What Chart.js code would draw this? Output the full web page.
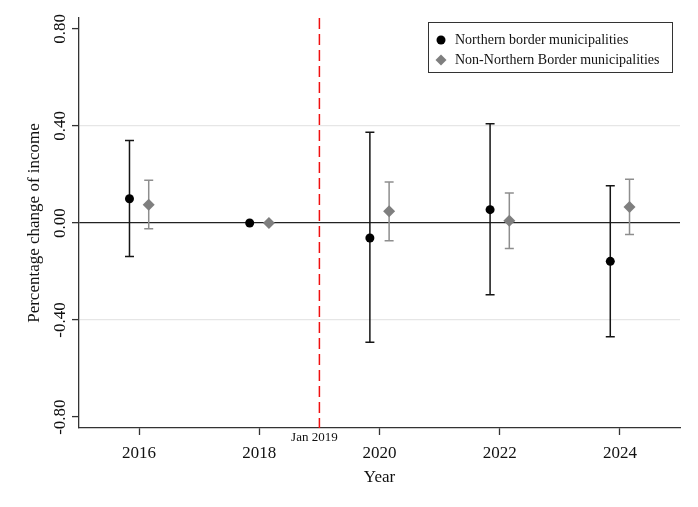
<!DOCTYPE html>
<html>
<head>
<meta charset="utf-8">
<script src="https://cdn.jsdelivr.net/npm/chart.js@4.4.1/dist/chart.umd.min.js"></script>
<style>
	body { margin: 0; background: #fff; }
</style>
</head>
<body>
<canvas id="eventChart" width="698" height="507"></canvas>
<script>
var years      = [2016, 2018, 2020, 2022, 2024];
var yTicks     = [-0.8, -0.4, 0, 0.4, 0.8];
var eventYear  = 2019;
var eventLabel = 'Jan 2019';

var northLabel = 'Northern border municipalities';
var northEst   = [0.100, 0, -0.062, 0.055, -0.158];
var northLow   = [-0.138, null, -0.492, -0.296, -0.469];
var northHigh  = [0.340, null, 0.374, 0.409, 0.154];

var otherLabel = 'Non-Northern Border municipalities';
var otherEst   = [0.075, 0, 0.048, 0.009, 0.066];
var otherLow   = [-0.024, null, -0.073, -0.105, -0.047];
var otherHigh  = [0.176, null, 0.169, 0.124, 0.180];

var serif = 'Liberation Serif';
var dodge = 0.16;	// the two series sit either side of the year

function points(est, shift){
	return years.map(function(y, i){ return {x: y + shift, y: est[i]}; });
}

// vertical CI whiskers with caps
var errorBars = {
	id: 'errorBars',
	beforeDatasetsDraw: function(chart){
		var ctx = chart.ctx, xs = chart.scales.x, ys = chart.scales.y;
		chart.data.datasets.forEach(function(ds){
			ctx.save();
			ctx.strokeStyle = ds.errColor;
			ctx.lineWidth = 1.5;
			ds.data.forEach(function(p, i){
				if (ds.errLow[i] == null) return;
				var x  = xs.getPixelForValue(p.x),
					y0 = ys.getPixelForValue(ds.errLow[i]),
					y1 = ys.getPixelForValue(ds.errHigh[i]);
				ctx.beginPath();
				ctx.moveTo(x, y0); ctx.lineTo(x, y1);
				ctx.moveTo(x - 4.5, y0); ctx.lineTo(x + 4.5, y0);
				ctx.moveTo(x - 4.5, y1); ctx.lineTo(x + 4.5, y1);
				ctx.stroke();
			});
			ctx.restore();
		});
	}
};

// red dashed line for the policy date + its label under the axis
var eventLine = {
	id: 'eventLine',
	beforeDatasetsDraw: function(chart){
		var ctx = chart.ctx, a = chart.chartArea, x = chart.scales.x.getPixelForValue(eventYear);
		ctx.save();
		ctx.strokeStyle = '#f01010';
		ctx.lineWidth = 1.5;
		ctx.setLineDash([11, 5]);
		ctx.beginPath();
		ctx.moveTo(x, a.top);
		ctx.lineTo(x, a.bottom);
		ctx.stroke();
		ctx.restore();
	},
	afterDraw: function(chart){
		var ctx = chart.ctx, a = chart.chartArea, x = chart.scales.x.getPixelForValue(eventYear);
		ctx.save();
		ctx.font = '13px "' + serif + '"';
		ctx.fillStyle = '#111';
		ctx.textAlign = 'center';
		ctx.textBaseline = 'middle';
		ctx.fillText(eventLabel, x - 5, a.bottom + 10);
		ctx.restore();
	}
};

// y tick labels turned 90 degrees like the original
var rotatedTicks = {
	id: 'rotatedTicks',
	afterDraw: function(chart){
		var ctx = chart.ctx, ys = chart.scales.y;
		ctx.save();
		ctx.font = '17px "' + serif + '"';
		ctx.fillStyle = '#111';
		ctx.textAlign = 'center';
		ctx.textBaseline = 'middle';
		ys.ticks.forEach(function(t){
			ctx.save();
			ctx.translate(ys.right - 18, ys.getPixelForValue(t.value));
			ctx.rotate(-Math.PI / 2);
			ctx.fillText(t.label, 0, 0);
			ctx.restore();
		});
		ctx.restore();
	}
};

// boxed legend inside the top right corner
var boxLegend = {
	id: 'boxLegend',
	afterDraw: function(chart){
		var ctx = chart.ctx, a = chart.chartArea;
		var left = a.right - 252, top = a.top + 4, w = 244, h = 50;
		ctx.save();
		ctx.fillStyle = '#fff';
		ctx.fillRect(left, top, w, h);
		ctx.strokeStyle = '#333';
		ctx.lineWidth = 1;
		ctx.strokeRect(left + 0.5, top + 0.5, w, h);
		ctx.font = '14px "' + serif + '"';
		ctx.textBaseline = 'middle';
		chart.data.datasets.forEach(function(ds, i){
			var cy = top + 18 + i * 20;
			ctx.fillStyle = ds.backgroundColor;
			Chart.helpers.drawPoint(ctx, {
				pointStyle: ds.pointStyle, radius: ds.pointStyle === 'circle' ? 4.5 : 5.5,
				borderWidth: 0, rotation: 0
			}, left + 13, cy);
			ctx.fillStyle = '#111';
			ctx.fillText(ds.label, left + 27, cy);
		});
		ctx.restore();
	}
};

var ctx = document.getElementById('eventChart').getContext('2d');
var eventChart = new Chart(ctx, {
	type: 'scatter',
	data: {
		datasets: [{
			label: northLabel,
			data: points(northEst, -dodge),
			errLow: northLow, errHigh: northHigh, errColor: '#151515',
			pointStyle: 'circle', pointRadius: 4.5,
			backgroundColor: '#000', borderColor: '#000', borderWidth: 0
		}, {
			label: otherLabel,
			data: points(otherEst, dodge),
			errLow: otherLow, errHigh: otherHigh, errColor: '#8e8e8e',
			pointStyle: 'rectRot', pointRadius: 6,
			backgroundColor: '#7f7f7f', borderColor: '#7f7f7f', borderWidth: 0
		}]
	},
	options: {
		responsive: false,
		animation: false,
		layout: { padding: { left: 0, top: 18, right: 18, bottom: 0 } },
		plugins: { legend: { display: false }, tooltip: { enabled: false } },
		scales: {
			x: {
				type: 'linear', min: 2015, max: 2025,
				afterBuildTicks: function(s){ s.ticks = years.map(function(v){ return {value: v}; }); },
				afterFit: function(s){ s.height = 79; },
				ticks: {
					callback: function(v){ return String(v); },
					font: { family: serif, size: 17 }, color: '#111', padding: 8, maxRotation: 0
				},
				grid: { drawOnChartArea: false, drawTicks: true, tickLength: 7, tickColor: '#333', tickWidth: 1.3 },
				border: { display: true, color: '#333', width: 1.3 },
				title: { display: true, text: 'Year', font: { family: serif, size: 17 }, color: '#111', padding: { top: 0, bottom: 19 } }
			},
			y: {
				type: 'linear', min: -0.845, max: 0.845,
				afterBuildTicks: function(s){ s.ticks = yTicks.map(function(v){ return {value: v}; }); },
				afterFit: function(s){ s.width = 79; },
				ticks: {
					display: false,
					callback: function(v){ return Number(v).toFixed(2); }
				},
				grid: {
					drawTicks: true, tickLength: 7, tickColor: '#333', tickWidth: 1.3,
					color: function(c){
						if (!c.tick) return 'rgba(0,0,0,0)';
						if (c.tick.value === 0) return '#222';
						return Math.abs(c.tick.value) === 0.4 ? '#e6e6e6' : 'rgba(0,0,0,0)';
					},
					lineWidth: function(c){ return c.tick && c.tick.value === 0 ? 1.3 : 1.2; }
				},
				border: { display: true, color: '#333', width: 1.3 },
				title: { display: true, text: 'Percentage change of income', font: { family: serif, size: 17 }, color: '#111', padding: { top: 24, bottom: 0 } }
			}
		}
	},
	plugins: [errorBars, eventLine, rotatedTicks, boxLegend]
});
</script>
</body>
</html>
